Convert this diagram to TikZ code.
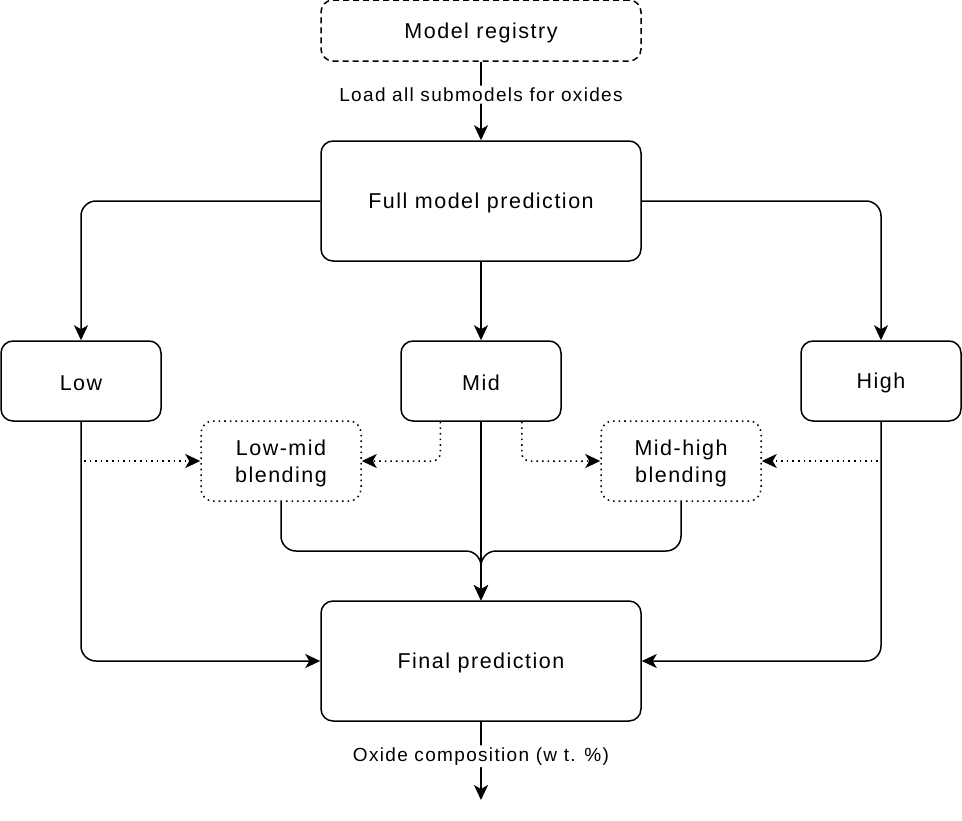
\documentclass[tikz,border=0pt]{standalone}
\usepackage{fontspec}
\setmainfont{Liberation Sans}[LetterSpace=7]
\usetikzlibrary{arrows.meta,positioning}
\newcommand{\lowr}[1]{\raisebox{-2pt}[\height][\depth]{#1}}
\begin{document}
\begin{tikzpicture}[x=1pt,y=-1pt,
  box/.style={draw, line width=1.5pt, rounded corners=12pt, align=center, inner sep=0pt,
    font=\fontsize{21.5}{27}\selectfont},
  bigbox/.style={box, minimum width=320pt, minimum height=120pt},
  smallbox/.style={box, minimum width=160pt, minimum height=80pt},
  conn/.style={line width=1.5pt, rounded corners=15pt, -{Stealth[length=15pt,width=14pt,inset=4pt]}},
  dotconn/.style={conn, rounded corners=8pt, dash pattern=on 1.6pt off 4pt},
  elabel/.style={fill=white, inner sep=2pt, font=\fontsize{19}{22}\selectfont}
]
\useasboundingbox (0,0) rectangle (962,820);
\node[bigbox, minimum height=61pt, dash pattern=on 6pt off 4pt] (reg) at (481,30.5) {\lowr{Model registry}};
\node[bigbox] (full) at (481,201) {\lowr{Full model prediction}};
\node[smallbox] (low) at (81,381) {\lowr{Low}};
\node[smallbox] (mid) at (481,381) {\lowr{Mid}};
\node[smallbox] (high) at (881,381) {\lowr{High}};
\node[smallbox, dash pattern=on 1.6pt off 4pt] (lm) at (281,461) {\lowr{Low-mid}\\\lowr{blending}};
\node[smallbox, dash pattern=on 1.6pt off 4pt] (mh) at (681,461) {\lowr{Mid-high}\\\lowr{blending}};
\node[bigbox] (fin) at (481,661) {\lowr{Final prediction}};
\coordinate (out) at (481,800);
\coordinate (lowtap) at (81,461);
\coordinate (hightap) at (881,461);
\coordinate (merge) at (481,551);

\draw[conn] (reg) -- node[elabel, pos=0.42] (l1) {Load all submodels for oxides} (full);
\draw[conn] (full.west) -| (low.north);
\draw[conn] (full.east) -| (high.north);
\draw[conn] (full) -- (mid);
\draw[conn] (mid) -- (fin);
\draw[conn] (low.south) |- (fin.west);
\draw[conn] (high.south) |- (fin.east);
\draw[conn] (lm.south) |- (merge) -- (fin.north);
\draw[conn] (mh.south) |- (merge) -- (fin.north);
\draw[dotconn, rounded corners=0pt] ([xshift=3pt]lowtap) -- (lm.west);
\draw[dotconn, rounded corners=0pt] ([xshift=-3pt]hightap) -- (mh.east);
\draw[dotconn] ([xshift=40pt]mid.south west) |- (lm.east);
\draw[dotconn] ([xshift=-40pt]mid.south east) |- (mh.west);
\draw[conn] (fin) -- node[elabel, pos=0.44] (l2) {Oxide composition (w t. \%)} (out);
\end{tikzpicture}
\end{document}
